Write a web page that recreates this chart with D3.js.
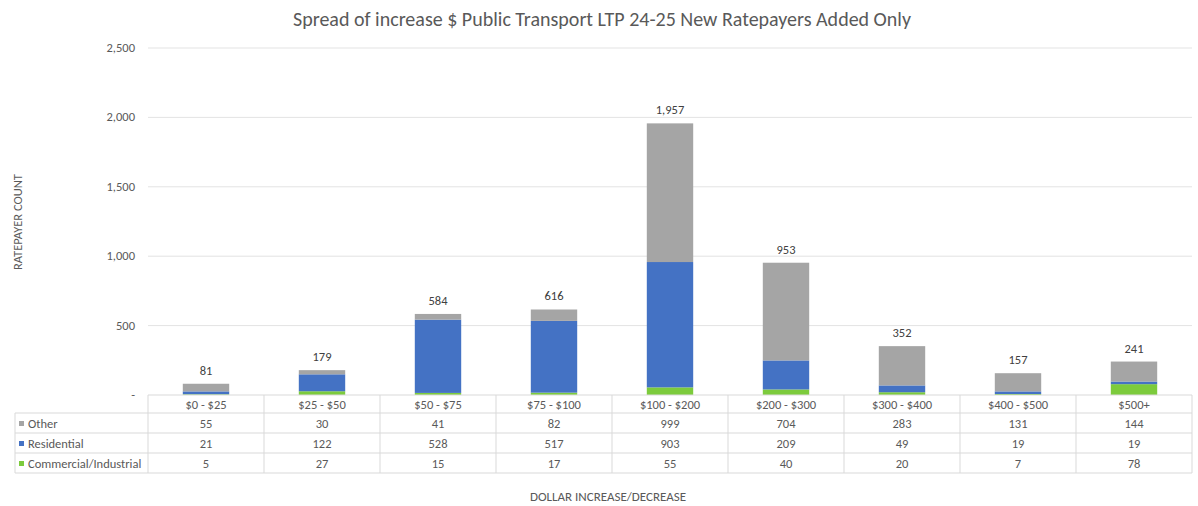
<!DOCTYPE html>
<html>
<head>
<meta charset="utf-8">
<script src="https://cdn.jsdelivr.net/npm/d3@7"></script>
<style>
  body { margin: 0; background: #fff; }
  text { font-family: Calibri, Carlito, Lato, sans-serif; }
</style>
</head>
<body>
<svg id="chart" width="1198" height="506"></svg>
<script>
// chart data
const categories = ["$0 - $25", "$25 - $50", "$50 - $75", "$75 - $100", "$100 - $200", "$200 - $300", "$300 - $400", "$400 - $500", "$500+"];
const other = [55, 30, 41, 82, 999, 704, 283, 131, 144];
const residential = [21, 122, 528, 517, 903, 209, 49, 19, 19];
const commercial = [5, 27, 15, 17, 55, 40, 20, 7, 78];
const yTicks = [0, 500, 1000, 1500, 2000, 2500];

const seriesNames = ["Other", "Residential", "Commercial/Industrial"];
const seriesValues = [other, residential, commercial];
const colors = { "Other": "#a5a5a5", "Residential": "#4472c4", "Commercial/Industrial": "#7ccb3c" };

const svg = d3.select("#chart");
const plotLeft = 148, plotRight = 1192, plotTop = 48, plotBottom = 395;

const x = d3.scaleBand().domain(categories).range([plotLeft, plotRight]).paddingInner(0.6).paddingOuter(0.3);
const col = d3.scaleBand().domain(categories).range([plotLeft, plotRight]);
const y = d3.scaleLinear().domain([0, 2500]).range([plotBottom, plotTop]);

// title
svg.append("text")
  .attr("x", 602).attr("y", 26)
  .attr("text-anchor", "middle")
  .attr("font-size", 20)
  .attr("fill", "#595959")
  .text("Spread of increase $ Public Transport LTP 24-25 New Ratepayers Added Only");

// gridlines + y labels
svg.append("g").selectAll("line")
  .data(yTicks.filter(d => d > 0))
  .join("line")
    .attr("x1", plotLeft).attr("x2", plotRight)
    .attr("y1", d => y(d)).attr("y2", d => y(d))
    .attr("stroke", "#e3e3e3");

svg.append("g").selectAll("text")
  .data(yTicks)
  .join("text")
    .attr("x", 135).attr("y", d => y(d) + 4)
    .attr("text-anchor", "end")
    .attr("font-size", 12.5)
    .attr("fill", "#595959")
    .text(d => d === 0 ? "-" : d3.format(",")(d));

// axis title
svg.append("text")
  .attr("transform", "translate(22,222) rotate(-90)")
  .attr("text-anchor", "middle")
  .attr("font-size", 12.5)
  .attr("fill", "#595959")
  .text("RATEPAYER COUNT");

// stacked bars: commercial at bottom, then residential, then other
const rows = categories.map((c, i) => ({
  cat: c,
  "Commercial/Industrial": commercial[i],
  "Residential": residential[i],
  "Other": other[i]
}));
const stack = d3.stack().keys(["Commercial/Industrial", "Residential", "Other"]);
const layers = stack(rows);

svg.append("g").selectAll("g")
  .data(layers)
  .join("g")
    .attr("fill", d => colors[d.key])
  .selectAll("rect")
  .data(d => d)
  .join("rect")
    .attr("x", d => x(d.data.cat))
    .attr("width", x.bandwidth())
    .attr("y", d => y(d[1]))
    .attr("height", d => y(d[0]) - y(d[1]));

// totals
svg.append("g").selectAll("text")
  .data(rows)
  .join("text")
    .attr("x", d => x(d.cat) + x.bandwidth() / 2)
    .attr("y", d => y(d.Other + d.Residential + d["Commercial/Industrial"]) - 9)
    .attr("text-anchor", "middle")
    .attr("font-size", 12.5)
    .attr("fill", "#404040")
    .text(d => d3.format(",")(d.Other + d.Residential + d["Commercial/Industrial"]));

// data table
const tableLeft = 15, rowH = 20, headerTop = plotBottom, headerH = 18;
const table = svg.append("g");
const lineColor = "#d9d9d9";
const tableBottom = headerTop + headerH + 3 * rowH;

// horizontal lines
table.append("line")
  .attr("x1", plotLeft).attr("x2", plotRight).attr("y1", plotBottom).attr("y2", plotBottom)
  .attr("stroke", lineColor);
[0, 1, 2, 3].forEach(k => {
  const yy = headerTop + headerH + k * rowH;
  table.append("line")
    .attr("x1", tableLeft).attr("x2", plotRight).attr("y1", yy).attr("y2", yy)
    .attr("stroke", lineColor);
});
// vertical lines
table.append("line")
  .attr("x1", tableLeft).attr("x2", tableLeft)
  .attr("y1", headerTop + headerH).attr("y2", tableBottom)
  .attr("stroke", lineColor);
categories.forEach(c => {
  table.append("line")
    .attr("x1", col(c)).attr("x2", col(c))
    .attr("y1", plotBottom).attr("y2", tableBottom)
    .attr("stroke", lineColor);
});
table.append("line")
  .attr("x1", plotRight).attr("x2", plotRight)
  .attr("y1", plotBottom).attr("y2", tableBottom)
  .attr("stroke", lineColor);

// header labels
table.selectAll("text.cat")
  .data(categories)
  .join("text")
    .attr("class", "cat")
    .attr("x", d => col(d) + col.bandwidth() / 2)
    .attr("y", headerTop + 13.5)
    .attr("text-anchor", "middle")
    .attr("font-size", 12.5)
    .attr("fill", "#595959")
    .text(d => d);

// series rows
seriesNames.forEach((name, r) => {
  const rowTop = headerTop + headerH + r * rowH;
  table.append("rect")
    .attr("x", 19).attr("y", rowTop + 8)
    .attr("width", 5).attr("height", 5)
    .attr("fill", colors[name]);
  table.append("text")
    .attr("x", 28).attr("y", rowTop + 14.5)
    .attr("font-size", 12.5)
    .attr("fill", "#595959")
    .text(name);
  table.selectAll("text.v" + r)
    .data(seriesValues[r])
    .join("text")
      .attr("class", "v" + r)
      .attr("x", (d, i) => col(categories[i]) + col.bandwidth() / 2)
      .attr("y", rowTop + 14.5)
      .attr("text-anchor", "middle")
      .attr("font-size", 12.5)
      .attr("fill", "#595959")
      .text(d => d);
});

// x axis title
svg.append("text")
  .attr("x", 608).attr("y", 501)
  .attr("text-anchor", "middle")
  .attr("font-size", 13)
  .attr("fill", "#595959")
  .text("DOLLAR INCREASE/DECREASE");
</script>
</body>
</html>
